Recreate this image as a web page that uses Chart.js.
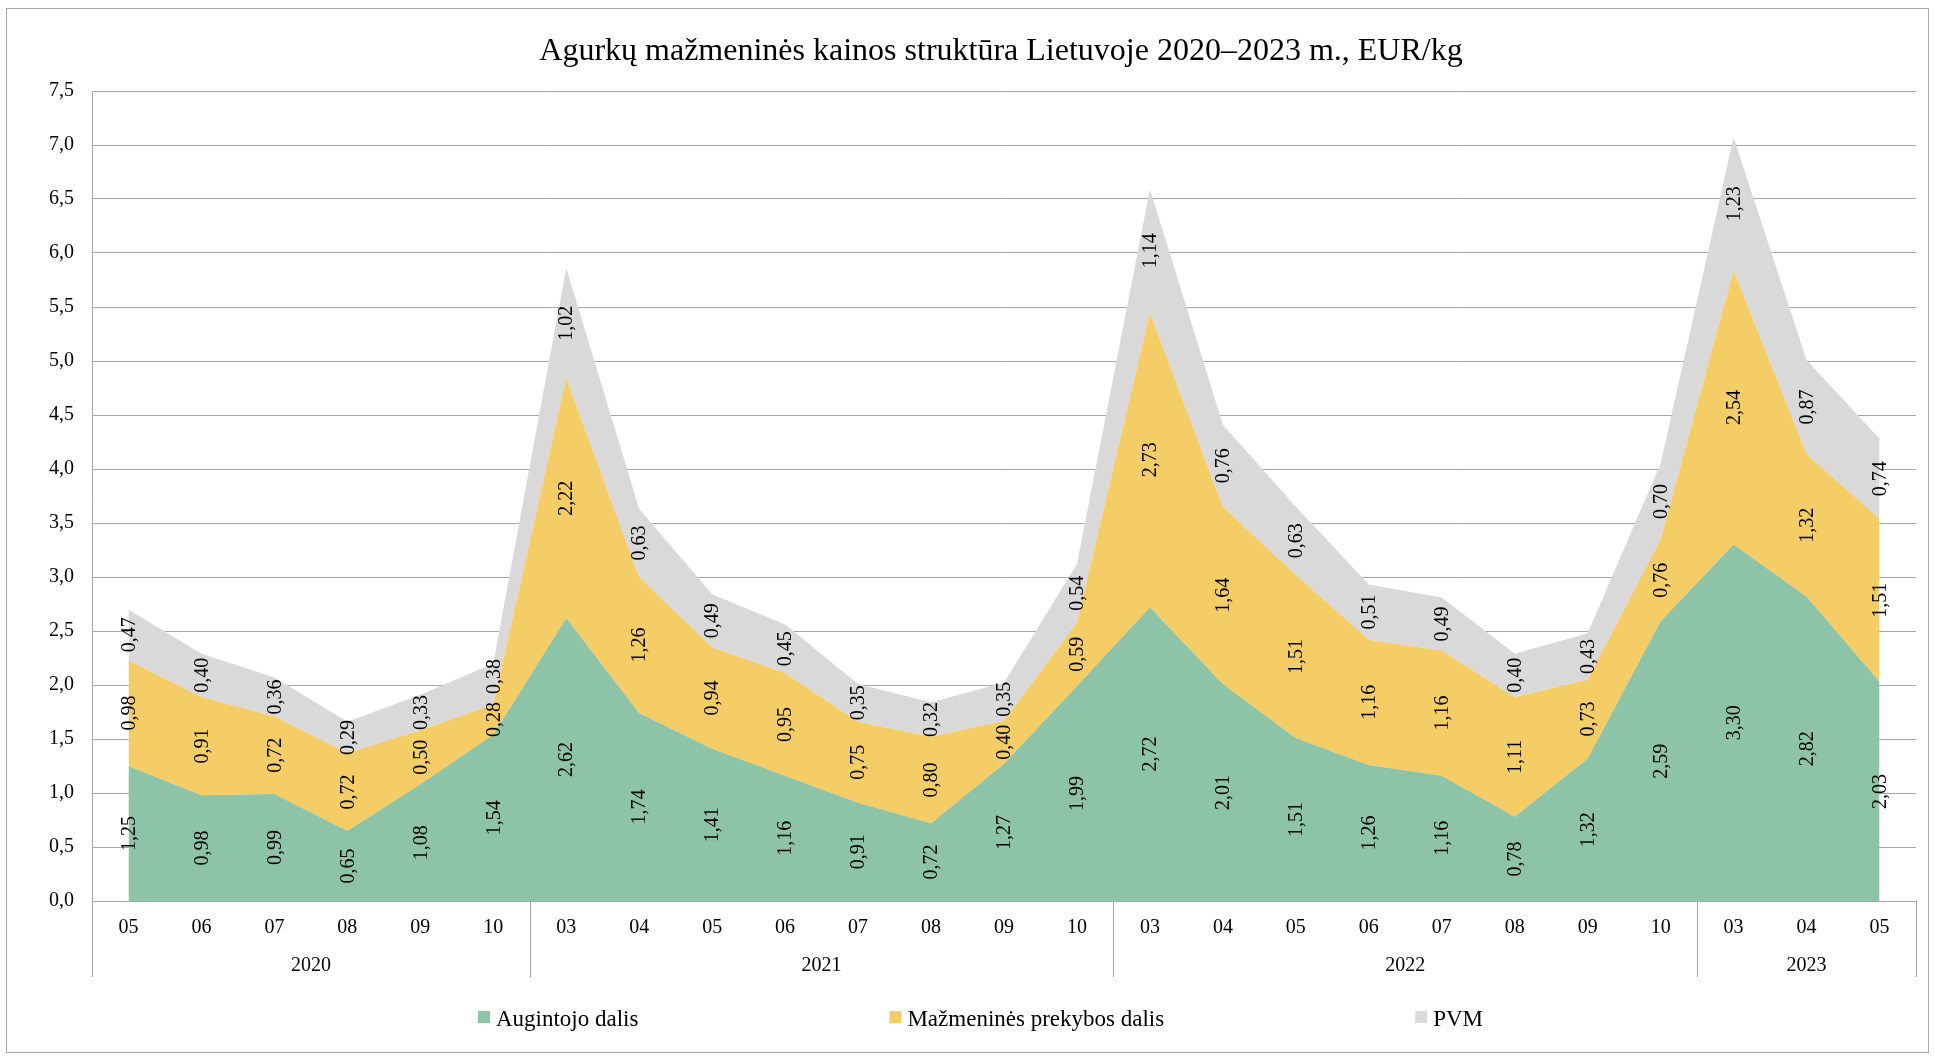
<!DOCTYPE html>
<html lang="lt">
<head>
<meta charset="utf-8">
<title>Agurkų mažmeninės kainos struktūra</title>
<script src="https://cdn.jsdelivr.net/npm/chart.js@4.4.1/dist/chart.umd.min.js"></script>
<style>
  html, body { margin: 0; padding: 0; background: #ffffff; }
  #wrap { position: relative; width: 1935px; height: 1056px; }
  canvas { display: block; }
</style>
</head>
<body>
<div id="wrap"><canvas id="chart" width="1935" height="1056"></canvas></div>
<script>
// Month codes along the time axis (2020-05 … 2023-05)
const months = ['05','06','07','08','09','10',
                '03','04','05','06','07','08','09','10',
                '03','04','05','06','07','08','09','10',
                '03','04','05'];
// Year groups shown below the months, and how many months each covers
const years = ['2020', '2021', '2022', '2023'];
const yearSpans = [6, 8, 8, 3];

// Price components, EUR/kg
const growerShare = [1.25, 0.98, 0.99, 0.65, 1.08, 1.54,
                     2.62, 1.74, 1.41, 1.16, 0.91, 0.72, 1.27, 1.99,
                     2.72, 2.01, 1.51, 1.26, 1.16, 0.78, 1.32, 2.59,
                     3.30, 2.82, 2.03];
const retailShare = [0.98, 0.91, 0.72, 0.72, 0.50, 0.28,
                     2.22, 1.26, 0.94, 0.95, 0.75, 0.80, 0.40, 0.59,
                     2.73, 1.64, 1.51, 1.16, 1.16, 1.11, 0.73, 0.76,
                     2.54, 1.32, 1.51];
const vatShare    = [0.47, 0.40, 0.36, 0.29, 0.33, 0.38,
                     1.02, 0.63, 0.49, 0.45, 0.35, 0.32, 0.35, 0.54,
                     1.14, 0.76, 0.63, 0.51, 0.49, 0.40, 0.43, 0.70,
                     1.23, 0.87, 0.74];

const seriesNames = ['Augintojo dalis', 'Mažmeninės prekybos dalis', 'PVM'];
const titleText = 'Agurkų mažmeninės kainos struktūra Lietuvoje 2020–2023 m., EUR/kg';

const SERIF = "'Liberation Serif', 'Times New Roman', Times, serif";
const COLORS = ['#8dc3a7', '#f5cd67', '#d9d9d9'];
const LINE = '#a6a6a6';

const fmt = (v, d) => v.toFixed(d).replace('.', ',');

// Frame, title, year row with separators, value labels and legend
const decorations = {
  id: 'decorations',
  beforeDraw(chart) {
    const ctx = chart.ctx;
    ctx.save();
    ctx.fillStyle = '#ffffff';
    ctx.fillRect(0, 0, chart.width, chart.height);
    ctx.strokeStyle = LINE;
    ctx.lineWidth = 1;
    ctx.strokeRect(6.5, 8.5, 1922, 1044);
    ctx.restore();
  },
  afterDatasetsDraw(chart) {
    const ctx = chart.ctx;
    const x = chart.scales.x, y = chart.scales.y;
    const sets = chart.data.datasets;
    ctx.save();
    ctx.fillStyle = '#000000';
    ctx.font = '20px ' + SERIF;
    ctx.textAlign = 'center';
    ctx.textBaseline = 'middle';
    const gap = 8;
    months.forEach((m, i) => {
      // centre each value label in its band, then keep stacked labels from overlapping
      let base = 0;
      const items = sets.map(ds => {
        const v = ds.data[i];
        const text = fmt(v, 2);
        const yc = (y.getPixelForValue(base) + y.getPixelForValue(base + v)) / 2;
        base += v;
        return { text, yc, half: ctx.measureText(text).width / 2 };
      });
      for (let k = 1; k < items.length; k++) {
        const lower = items[k - 1], upper = items[k];
        const limit = lower.yc - lower.half - gap - upper.half;
        if (upper.yc > limit) upper.yc = limit;
      }
      const xc = x.getPixelForValue(i);
      items.forEach(it => {
        ctx.save();
        ctx.translate(xc, it.yc);
        ctx.rotate(-Math.PI / 2);
        ctx.fillText(it.text, 0, 1);
        ctx.restore();
      });
    });
    ctx.restore();
  },
  afterDraw(chart) {
    const ctx = chart.ctx;
    const area = chart.chartArea;
    const x = chart.scales.x;
    ctx.save();

    // title
    ctx.fillStyle = '#000000';
    ctx.font = '32px ' + SERIF;
    ctx.textAlign = 'center';
    ctx.textBaseline = 'alphabetic';
    ctx.fillText(titleText, (area.left + area.right) / 2 - 3, 60);

    // year row
    const band = (x.right - x.left) / months.length;
    const sepBottom = area.bottom + 76;
    ctx.strokeStyle = LINE;
    ctx.lineWidth = 1;
    let start = 0;
    const edges = [x.left];
    years.forEach((yr, k) => {
      const end = start + yearSpans[k];
      const xl = x.getPixelForValue(start) - band / 2;
      const xr = x.getPixelForValue(end - 1) + band / 2;
      edges.push(xr);
      ctx.font = '20px ' + SERIF;
      ctx.textBaseline = 'middle';
      ctx.fillText(yr, (xl + xr) / 2, area.bottom + 65);
      start = end;
    });
    edges.forEach(e => {
      const px = Math.round(e) + 0.5;
      ctx.beginPath();
      ctx.moveTo(px, area.bottom);
      ctx.lineTo(px, sepBottom);
      ctx.stroke();
    });

    // legend
    ctx.font = '23px ' + SERIF;
    ctx.textAlign = 'left';
    ctx.textBaseline = 'alphabetic';
    const box = 12, boxGap = 6, itemGap = 251;
    const widths = seriesNames.map(n => box + boxGap + ctx.measureText(n).width);
    const total = widths.reduce((a, b) => a + b, 0) + itemGap * (widths.length - 1);
    let lx = 980.5 - total / 2;
    seriesNames.forEach((n, i) => {
      ctx.fillStyle = COLORS[i];
      ctx.fillRect(lx, 1011, box, box);
      ctx.fillStyle = '#000000';
      ctx.fillText(n, lx + box + boxGap, 1026);
      lx += widths[i] + itemGap;
    });
    ctx.restore();
  }
};

const chart = new Chart(document.getElementById('chart'), {
  type: 'line',
  data: {
    labels: months,
    datasets: [
      { label: seriesNames[0], data: growerShare, backgroundColor: COLORS[0], fill: 'origin' },
      { label: seriesNames[1], data: retailShare, backgroundColor: COLORS[1], fill: '-1' },
      { label: seriesNames[2], data: vatShare,    backgroundColor: COLORS[2], fill: '-1' }
    ].map(d => Object.assign(d, {
      borderColor: 'rgba(0,0,0,0)', borderWidth: 0, pointRadius: 0,
      pointHoverRadius: 0, tension: 0
    }))
  },
  options: {
    responsive: false,
    animation: false,
    events: [],
    layout: { padding: { left: 0, right: 19, top: 91, bottom: 79 } },
    plugins: {
      legend: { display: false },
      title: { display: false },
      tooltip: { enabled: false }
    },
    scales: {
      x: {
        type: 'category',
        offset: true,
        grid: { display: false, drawTicks: false },
        border: { display: true, color: LINE, width: 1 },
        ticks: {
          color: '#000000', font: { family: SERIF, size: 20 },
          padding: 15, maxRotation: 0, autoSkip: false
        },
        afterFit(s) { s.height = 76; }
      },
      y: {
        stacked: true,
        min: 0, max: 7.5,
        grid: { color: LINE, lineWidth: 1, drawTicks: false },
        border: { display: true, color: LINE, width: 1 },
        ticks: {
          stepSize: 0.5, color: '#000000', font: { family: SERIF, size: 20 },
          padding: 18,
          callback: v => fmt(v, 1)
        },
        afterFit(s) { s.width = 92; }
      }
    }
  },
  plugins: [decorations]
});
</script>
</body>
</html>
